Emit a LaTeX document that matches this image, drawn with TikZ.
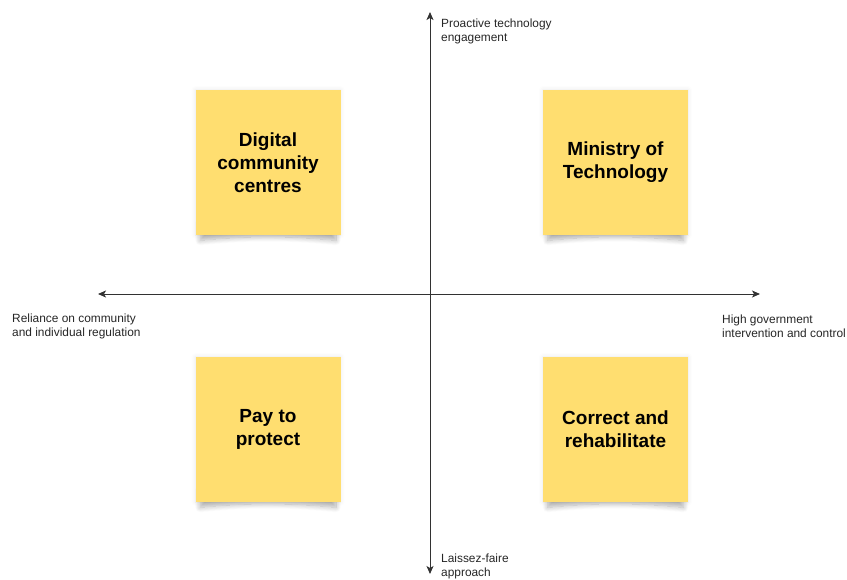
\documentclass[tikz,border=0pt]{standalone}
\usepackage{fontspec}
\setmainfont{Liberation Sans}
\usetikzlibrary{arrows.meta,shadows.blur}
\definecolor{notefill}{RGB}{255,222,112}
\definecolor{axisgray}{RGB}{50,50,50}
\tikzset{
  note/.style={fill=notefill, minimum width=145pt, minimum height=145pt,
    inner sep=0pt, align=center, font=\fontsize{19}{23}\selectfont\bfseries,
    blur shadow={shadow xshift=0pt, shadow yshift=0pt,
      shadow blur radius=4pt, shadow opacity=10}},
  curl/.style={blur shadow={shadow xshift=0pt, shadow yshift=0pt,
      shadow blur radius=5pt, shadow blur steps=12, shadow opacity=30}},
  axis/.style={draw=axisgray, line width=1pt,
    {Stealth[length=8pt,width=7pt,inset=2pt]}-{Stealth[length=8pt,width=7pt,inset=2pt]}},
  axislabel/.style={anchor=west, align=left, inner sep=0pt,
    font=\fontsize{11.9}{14}\selectfont, text=black!85}
}
% soft curled shadow under the bottom edge of a 145pt square note centred at (#1,#2)
\newcommand{\notecurl}[2]{%
  \path[curl] (#1-68,#2+60) -- (#1+68,#2+60) -- (#1+68,#2+78)
    .. controls (#1+20,#2+73) and (#1-20,#2+73) .. (#1-68,#2+78) -- cycle;}
\begin{document}
\begin{tikzpicture}[x=1pt,y=-1pt]
  \useasboundingbox (0,0) rectangle (847,579);

  % axes
  \coordinate (top) at (430,12);
  \coordinate (bottom) at (430,574);
  \coordinate (left) at (98,294);
  \coordinate (right) at (760,294);
  \draw[axis] (bottom) -- (top);
  \draw[axis] (left) -- (right);

  % axis labels
  \node[axislabel] (ltop) at (441,31) {Proactive technology\\engagement};
  \node[axislabel] (lbottom) at (441,566.5) {Laissez-faire\\approach};
  \node[axislabel] (lleft) at (12,326.5) {Reliance on community\\and individual regulation};
  \node[axislabel] (lright) at (722,326.5) {High government\\intervention and control};

  % shadows beneath the notes
  \notecurl{268}{162.5}
  \notecurl{615.5}{162.5}
  \notecurl{268}{429.5}
  \notecurl{615.5}{429.5}

  % quadrant notes
  \node[note] (dcc) at (268,162.5) {Digital\\community\\centres};
  \node[note] (mot) at (615.5,162.5) {Ministry of\\Technology};
  \node[note] (ptp) at (268,429.5) {Pay to\\protect};
  \node[note] (car) at (615.5,429.5) {Correct and\\rehabilitate};
\end{tikzpicture}
\end{document}
